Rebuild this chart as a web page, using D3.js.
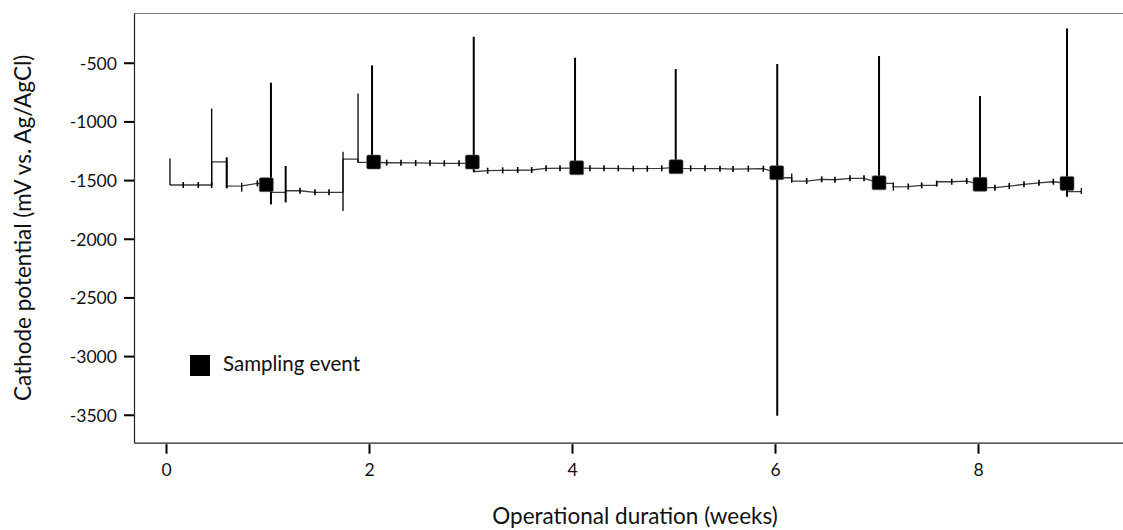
<!DOCTYPE html>
<html>
<head>
<meta charset="utf-8">
<script src="https://cdn.jsdelivr.net/npm/d3@7"></script>
<style>
  body { margin: 0; background: #fff; }
  svg { display: block; font-family: Lato, 'Open Sans', sans-serif; }
</style>
</head>
<body>
<svg id="chart" width="1123" height="530"></svg>
<script>
// cathode potential trace (weeks, mV vs Ag/AgCl)
const traceWeeks = [
  0.039, 0.450, 0.450, 0.598, 0.598, 0.746, 0.900, 0.985, 1.034, 1.034,
  1.179, 1.179, 1.320, 1.468, 1.744, 1.744, 1.892, 1.892, 2.030, 2.174,
  2.460, 2.742, 3.032, 3.032, 3.169, 3.317, 3.603, 3.744, 4.030, 4.604,
  4.884, 5.022, 5.040, 5.458, 5.586, 5.885, 6.017, 6.030, 6.165, 6.165,
  6.312, 6.460, 6.591, 6.739, 6.877, 7.025, 7.040, 7.166, 7.166, 7.313,
  7.445, 7.593, 7.593, 7.741, 7.889, 8.020, 8.035, 8.167, 8.308, 8.453,
  8.601, 8.742, 8.877, 8.890, 9.018
];
const traceMv = [
  -1542, -1542, -1344, -1344, -1551, -1549, -1528, -1536, -1536, -1604,
  -1604, -1591, -1591, -1604, -1604, -1321, -1321, -1349, -1349, -1352,
  -1354, -1357, -1357, -1429, -1420, -1417, -1414, -1400, -1398, -1403,
  -1400, -1392, -1400, -1403, -1406, -1403, -1437, -1480, -1480, -1508,
  -1508, -1494, -1497, -1485, -1485, -1523, -1528, -1528, -1557, -1555,
  -1545, -1545, -1514, -1514, -1508, -1536, -1565, -1565, -1551, -1536,
  -1523, -1514, -1528, -1599, -1599
];

// daily readings (small error ticks)
const dayWeeks = [
  0.170, 0.318, 0.450, 0.900, 1.320, 1.468, 1.606, 2.174, 2.315, 2.460,
  2.601, 2.742, 2.887, 3.169, 3.317, 3.465, 3.603, 3.744, 3.882, 4.177,
  4.315, 4.456, 4.604, 4.742, 4.884, 5.169, 5.310, 5.458, 5.586, 5.737,
  5.885, 6.312, 6.460, 6.591, 6.739, 6.877, 7.313, 7.445, 7.593, 7.741,
  7.889, 8.167, 8.308, 8.453, 8.601, 8.742
];
const dayMv = [
  -1542, -1542, -1542, -1528, -1591, -1604, -1604, -1352, -1352, -1354,
  -1354, -1357, -1357, -1420, -1417, -1414, -1414, -1400, -1400, -1400,
  -1400, -1400, -1403, -1403, -1400, -1400, -1400, -1403, -1406, -1403,
  -1403, -1508, -1494, -1497, -1485, -1485, -1555, -1545, -1530, -1514,
  -1508, -1565, -1551, -1536, -1523, -1514
];

// excursions (min / max) around set-point changes and sampling
const barWeeks = [
  0.039, 0.450, 0.598, 0.746, 1.034, 1.179, 1.744, 1.892, 2.030, 3.032,
  4.030, 5.022, 6.022, 6.165, 7.025, 7.166, 8.020, 8.877, 9.018
];
const barLow = [
  -1542, -1542, -1570, -1599, -1707, -1690, -1764, -1349, -1349, -1429,
  -1395, -1386, -3508, -1523, -1523, -1591, -1536, -1642, -1619
];
const barHigh = [
  -1315, -889, -1306, -1523, -670, -1380, -1258, -761, -522, -278,
  -457, -554, -511, -1443, -443, -1523, -784, -207, -1568
];
const barBold = [
  0, 0, 1, 0, 1, 1, 0, 0, 1, 1,
  1, 1, 1, 0, 1, 0, 1, 1, 0
];

// sampling events
const sampleWeeks = [0.988, 2.046, 3.018, 4.046, 5.025, 6.017, 7.025, 8.020, 8.877];
const sampleMv = [-1539, -1346, -1346, -1395, -1386, -1437, -1523, -1536, -1528];

const xTicks = [0, 2, 4, 6, 8];
const yTicks = [-3500, -3000, -2500, -2000, -1500, -1000, -500];

function drawChart() {
  const svg = d3.select('#chart');
  const left = 134, right = 1123, top = 13, bottom = 442.7;

  const x = d3.scaleLinear().domain([-0.3153, 9.4286]).range([left, right]);
  const y = d3.scaleLinear().domain([-3738, -76]).range([bottom, top]);

  // frame
  svg
    .append('line')
    .attr('x1', left)
    .attr('x2', right)
    .attr('y1', top + 0.5)
    .attr('y2', top + 0.5)
    .attr('stroke', '#777')
    .attr('stroke-width', 1.2);

  const yAxis = svg
    .append('g')
    .attr('transform', `translate(${left},0)`)
    .call(
      d3.axisLeft(y)
        .tickValues(yTicks)
        .tickFormat(d => String(d))
        .tickSize(10)
        .tickSizeOuter(0)
        .tickPadding(7)
    );

  const xAxis = svg
    .append('g')
    .attr('transform', `translate(0,${bottom})`)
    .call(
      d3.axisBottom(x)
        .tickValues(xTicks)
        .tickFormat(d => String(d))
        .tickSize(11)
        .tickSizeOuter(0)
        .tickPadding(10)
    );

  [yAxis, xAxis].forEach(function(ax) {
    ax.select('.domain').attr('stroke', '#222').attr('stroke-width', 1.2);
    ax.selectAll('.tick line').attr('stroke', '#000').attr('stroke-width', 2);
    ax.selectAll('.tick text')
      .attr('fill', '#111')
      .style('font-size', '17.6px')
      .style('font-family', 'Lato, sans-serif');
  });
  yAxis.selectAll('.tick text').attr('dy', '0.36em');
  xAxis.selectAll('.tick line').attr('y1', 1.5);
  xAxis.selectAll('.tick text').attr('dy', '0.72em');

  // trace
  const trace = traceWeeks.map(function(d, i) { return [d, traceMv[i]]; });
  const line = d3.line().x(d => x(d[0])).y(d => y(d[1]));

  svg
    .append('path')
    .datum(trace)
    .attr('d', line)
    .attr('fill', 'none')
    .attr('stroke', '#3a3a3a')
    .attr('stroke-width', 1.3);

  svg
    .append('g')
    .selectAll('line')
    .data(barWeeks)
    .join('line')
    .attr('x1', d => x(d))
    .attr('x2', d => x(d))
    .attr('y1', (d, i) => y(barLow[i]))
    .attr('y2', (d, i) => y(barHigh[i]))
    .attr('stroke', '#000')
    .attr('stroke-width', (d, i) => (barBold[i] ? 2 : 1.3));

  svg
    .append('g')
    .selectAll('line')
    .data(dayWeeks)
    .join('line')
    .attr('x1', d => x(d))
    .attr('x2', d => x(d))
    .attr('y1', (d, i) => y(dayMv[i]) - 3)
    .attr('y2', (d, i) => y(dayMv[i]) + 3)
    .attr('stroke', '#000')
    .attr('stroke-width', 1.6);

  const sq = 14;
  svg
    .append('g')
    .selectAll('rect')
    .data(sampleWeeks)
    .join('rect')
    .attr('x', d => x(d) - sq / 2)
    .attr('y', (d, i) => y(sampleMv[i]) - sq / 2)
    .attr('width', sq)
    .attr('height', sq)
    .attr('rx', 1.5)
    .attr('fill', '#000')
    .attr('stroke', '#666')
    .attr('stroke-width', 0.6);

  // legend
  const legend = svg.append('g').attr('transform', 'translate(190,355)');
  legend
    .append('rect')
    .attr('width', 20)
    .attr('height', 21)
    .attr('fill', '#000');
  legend
    .append('text')
    .attr('x', 33)
    .attr('y', 16)
    .style('font-size', '20.5px')
    .attr('fill', '#111')
    .text('Sampling event');

  // axis titles
  svg
    .append('text')
    .attr('x', 635)
    .attr('y', 524)
    .attr('text-anchor', 'middle')
    .style('font-size', '22.5px')
    .attr('fill', '#111')
    .text('Operational duration (weeks)');

  svg
    .append('text')
    .attr('transform', `translate(31,${(top + bottom) / 2}) rotate(-90)`)
    .attr('text-anchor', 'middle')
    .style('font-size', '22.5px')
    .attr('fill', '#111')
    .text('Cathode potential (mV vs. Ag/AgCl)');
}

document.addEventListener('DOMContentLoaded', drawChart);
</script>
</body>
</html>
